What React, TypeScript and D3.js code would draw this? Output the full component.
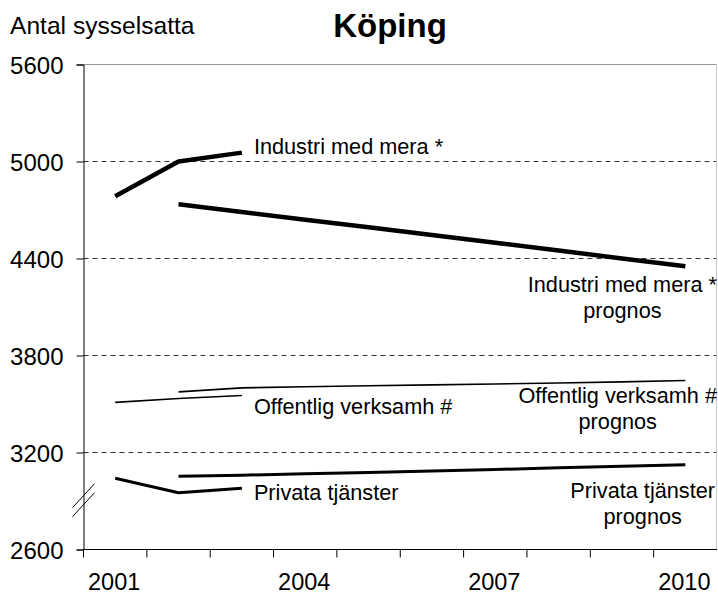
import React, { useEffect, useRef } from 'react'
import * as d3 from 'd3'

const years = [2001, 2002, 2003, 2004, 2005, 2006, 2007, 2008, 2009, 2010]
const yTicks = [2600, 3200, 3800, 4400, 5000, 5600]
const xTickLabels = [2001, 2004, 2007, 2010]

const actualYears = [2001, 2002, 2003]
const forecastYears = [2002, 2003, 2004, 2005, 2006, 2007, 2008, 2009, 2010]

const industriActual = [4785, 5000, 5055]
const industriForecast = [4735, 4688, 4640, 4593, 4545, 4497, 4450, 4400, 4352]
const offentligActual = [3510, 3534, 3553]
const offentligForecast = [3575, 3600, 3607, 3613, 3618, 3624, 3630, 3637, 3645]
const privataActual = [3041, 2951, 2979]
const privataForecast = [3053, 3060, 3068, 3077, 3086, 3095, 3105, 3115, 3124]

const seriesNames = ['Industri med mera *', 'Offentlig verksamh #', 'Privata tjänster']
const forecastWord = 'prognos'

const W = 718
const H = 595
const margin = { top: 64.5, right: 1, bottom: 45.5, left: 83.5 }
const FONT = "Arial, 'Liberation Sans', Helvetica, sans-serif"

export default function App() {
  const svgRef = useRef<SVGSVGElement>(null)

  useEffect(() => {
    const svg = d3.select(svgRef.current)
    svg.selectAll('*').remove()

    const x = d3.scaleBand<number>().domain(years).range([margin.left, W - margin.right])
    const y = d3.scaleLinear().domain([2600, 5600]).range([H - margin.bottom, margin.top])
    const cx = (yr: number) => (x(yr) as number) + x.bandwidth() / 2

    const g = svg.append('g')

    // grid lines
    yTicks.filter(v => v > 2600 && v < 5600).forEach(v => {
      g.append('line')
        .attr('x1', margin.left).attr('x2', W - margin.right)
        .attr('y1', y(v)).attr('y2', y(v))
        .attr('stroke', '#333').attr('stroke-width', 1)
        .attr('stroke-dasharray', '5,4')
    })
    // top and right frame
    g.append('line')
      .attr('x1', margin.left).attr('x2', W - margin.right)
      .attr('y1', y(5600)).attr('y2', y(5600))
      .attr('stroke', '#999')
    g.append('line')
      .attr('x1', W - 1.5).attr('x2', W - 1.5)
      .attr('y1', y(5600)).attr('y2', y(2600))
      .attr('stroke', '#ccc')

    // y axis
    const yaxis = d3.axisLeft(y).tickValues(yTicks).tickFormat(d3.format('d')).tickSize(7).tickPadding(13)
    const yg = g.append('g').attr('transform', `translate(${margin.left},0)`).call(yaxis)
    yg.attr('font-family', FONT)
    yg.select('.domain').attr('stroke', '#000')
    yg.selectAll('.tick line').attr('stroke', '#000')
    yg.selectAll('text')
      .attr('font-family', FONT).attr('font-size', 24).attr('fill', '#000')
      .attr('dy', '0.36em')

    // x axis
    const bottom = H - margin.bottom
    const xg = g.append('g').attr('transform', `translate(0,${bottom})`)
    xg.append('line').attr('x1', margin.left).attr('x2', W - margin.right)
      .attr('stroke', '#000')
    years.forEach(yr => {
      xg.append('line')
        .attr('x1', x(yr) as number).attr('x2', x(yr) as number)
        .attr('y1', 0).attr('y2', 8).attr('stroke', '#000')
    })
    xTickLabels.forEach(yr => {
      xg.append('text')
        .attr('x', cx(yr) - 1).attr('y', 40)
        .attr('text-anchor', 'middle')
        .attr('font-family', FONT).attr('font-size', 23.5)
        .text(yr)
    })

    // axis break
    const by = y(2905)
    ;[-4.5, 4.5].forEach(off => {
      g.append('line')
        .attr('x1', margin.left - 11).attr('y1', by + off + 12)
        .attr('x2', margin.left + 11).attr('y2', by + off - 12)
        .attr('stroke', '#000').attr('stroke-width', 1)
    })

    const line = d3.line<[number, number]>()
      .x(d => cx(d[0]))
      .y(d => y(d[1]))

    const series = [
      { actual: industriActual, forecast: industriForecast, width: 4.5 },
      { actual: offentligActual, forecast: offentligForecast, width: 1.6 },
      { actual: privataActual, forecast: privataForecast, width: 3 },
    ]
    series.forEach(s => {
      const a = actualYears.map((yr, i) => [yr, s.actual[i]] as [number, number])
      const f = forecastYears.map((yr, i) => [yr, s.forecast[i]] as [number, number])
      ;[a, f].forEach(pts => {
        g.append('path').datum(pts)
          .attr('d', line)
          .attr('fill', 'none').attr('stroke', '#000')
          .attr('stroke-width', s.width)
          .attr('stroke-linejoin', 'round')
      })
    })

    // labels next to the actual lines
    const leftOffsets = [1, 19, 12]
    series.forEach((s, i) => {
      g.append('text')
        .attr('x', cx(2003) + 12)
        .attr('y', y(s.actual[2]) + leftOffsets[i])
        .attr('font-family', FONT).attr('font-size', 21.7)
        .text(seriesNames[i])
    })

    // labels under the forecast lines
    const rightOffsets = [26, 22, 33]
    const rightEdges = [717, 717, 715]
    series.forEach((s, i) => {
      const base = y(s.forecast[s.forecast.length - 1]) + rightOffsets[i]
      const t = g.append('text')
        .attr('x', rightEdges[i]).attr('y', base)
        .attr('text-anchor', 'end')
        .attr('font-family', FONT).attr('font-size', 21.7)
        .text(seriesNames[i])
      const wdt = (t.node() as SVGTextElement).getComputedTextLength()
      g.append('text')
        .attr('x', rightEdges[i] - wdt / 2).attr('y', base + 26)
        .attr('text-anchor', 'middle')
        .attr('font-family', FONT).attr('font-size', 21.7)
        .text(forecastWord)
    })

    // titles
    svg.append('text')
      .attr('x', 10).attr('y', 34)
      .attr('font-family', FONT).attr('font-size', 24.6)
      .text('Antal sysselsatta')
    svg.append('text')
      .attr('x', 390).attr('y', 37)
      .attr('text-anchor', 'middle')
      .attr('font-family', FONT).attr('font-size', 33).attr('font-weight', 'bold')
      .text('Köping')
  }, [])

  return (
    <svg ref={svgRef} width={W} height={H}
      style={{ position: 'absolute', left: 0, top: 0, background: '#fff' }} />
  )
}
